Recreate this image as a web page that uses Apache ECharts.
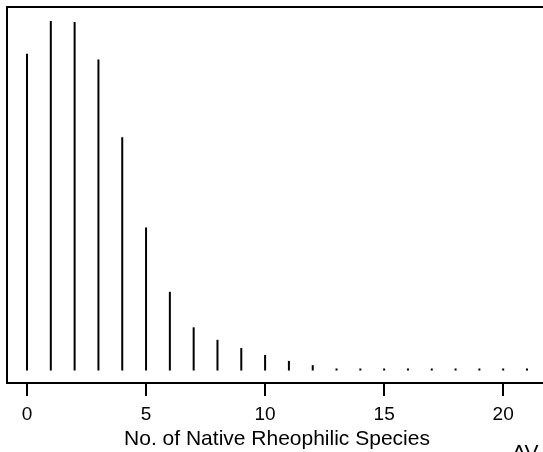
<!DOCTYPE html>
<html>
<head>
<meta charset="utf-8">
<script src="https://cdn.jsdelivr.net/npm/echarts@6/dist/echarts.min.js"></script>
<style>
html,body{margin:0;padding:0;background:#fff;}
#chart{width:543px;height:452px;}
</style>
</head>
<body>
<div id="chart"></div>
<script>
// Number of native rheophilic species (x) and relative frequency (y)
const species = [0,1,2,3,4,5,6,7,8,9,10,11,12,13,14,15,16,17,18,19,20,21];
const frequency = [0.165,0.182,0.1815,0.162,0.1215,0.0745,0.041,0.0225,0.016,0.0117,0.0081,0.005,0.0028,0.0009,0.0008,0.0008,0.0008,0.0008,0.0008,0.0008,0.0008,0.0008];
const xTicks = [0,5,10,15,20];
const xName = 'No. of Native Rheophilic Species';

const chart = echarts.init(document.getElementById('chart'), null, {renderer:'canvas'});
const FONT = 'Liberation Sans, Arial, Helvetica, sans-serif';
chart.setOption({
  animation:false,
  backgroundColor:'#fff',
  grid:{left:7, top:7, width:540, height:376, show:true, borderColor:'#000', borderWidth:2, backgroundColor:'transparent', outerBoundsMode:'none', containLabel:false},
  xAxis:{
    type:'value', min:-0.84, max:21.84,
    name:xName, nameLocation:'middle', nameGap:41,
    nameTextStyle:{fontFamily:FONT, fontSize:21, color:'#000'},
    axisLine:{show:true, onZero:false, lineStyle:{color:'#000', width:2}},
    axisTick:{show:true, inside:false, length:13, lineStyle:{color:'#000', width:2}, customValues:xTicks},
    axisLabel:{show:true, margin:22, fontFamily:FONT, fontSize:19, color:'#000', customValues:xTicks},
    splitLine:{show:false}
  },
  yAxis:{
    type:'value', min:-0.0065, max:0.1893,
    axisLine:{show:false}, axisTick:{show:false}, axisLabel:{show:false}, splitLine:{show:false}
  },
  series:[{
    type:'bar', barWidth:2, barMinHeight:2,
    itemStyle:{color:'#000'},
    data: species.map((s,i)=>[s, frequency[i]])
  }],
  graphic:[{type:'text', left:512, top:443, style:{text:'AV', font:'21px '+FONT, fill:'#000'}}]
});
</script>
</body>
</html>
